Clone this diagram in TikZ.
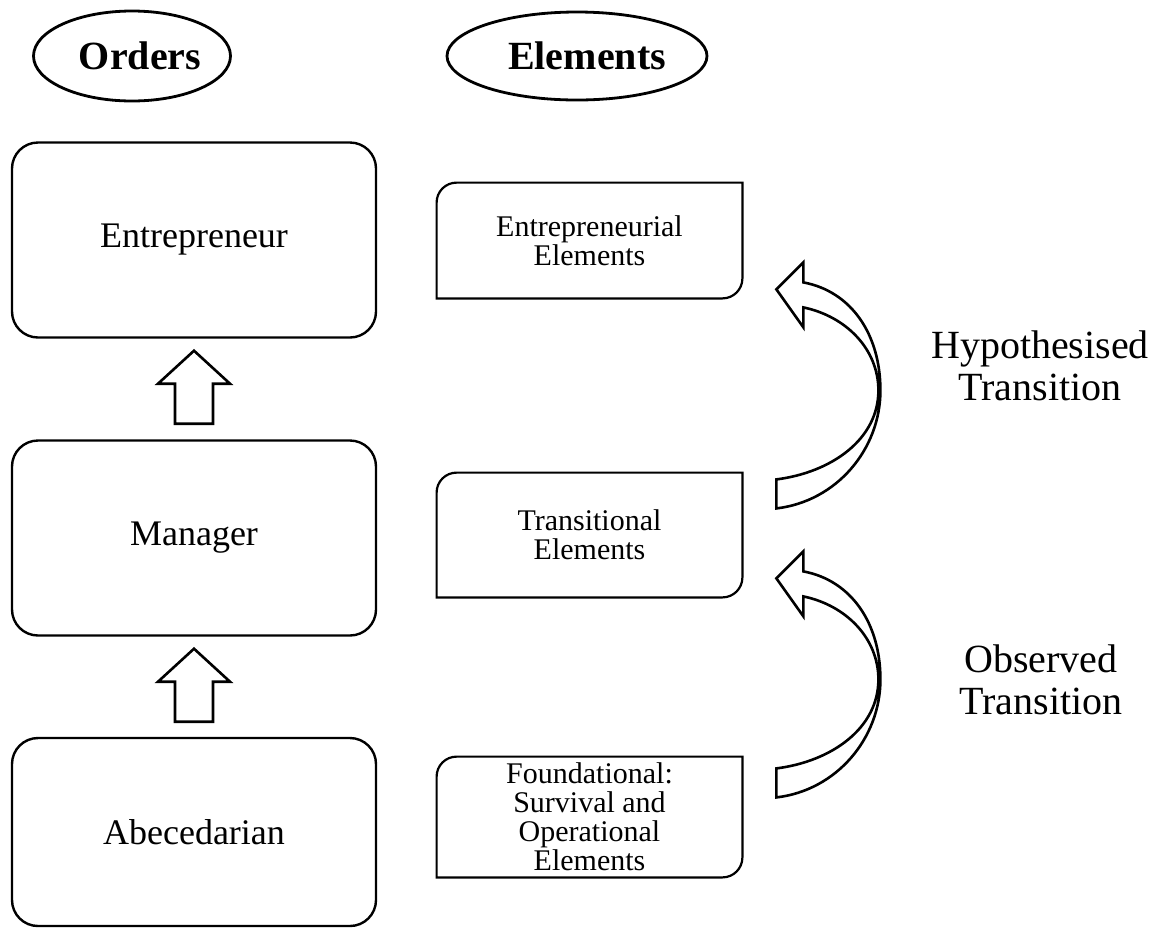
\documentclass[tikz,border=0pt]{standalone}
\usepackage{fontspec}
\setmainfont{Liberation Serif}
\usetikzlibrary{shapes.geometric,calc}

\tikzset{
  thickline/.style={line width=1.3pt, line join=miter},
  head/.style={ellipse, draw, line width=1.4pt, inner sep=0pt,
    font=\fontsize{20}{22}\selectfont\bfseries},
  order/.style={draw, line width=1.2pt, rounded corners=13pt,
    minimum width=182pt, minimum height=97.5pt,
    font=\fontsize{18}{21}\selectfont},
  elem/.style={align=center, inner sep=0pt, minimum width=152.5pt,
    font=\fontsize{15}{14.5}\selectfont},
  trans/.style={align=center, font=\fontsize{20}{21}\selectfont},
  bend arrow/.pic={
    \draw[thickline] (0,0) -- (27,-27) -- (27,-7)
      .. controls (75,2) and (104,45) .. (104,101)
      .. controls (104,160) and (60,212) .. (0,219) -- (0,190)
      .. controls (55,183) and (102,150) .. (102,101)
      .. controls (102,60) and (70,27) .. (27,18) -- (27,38) -- cycle;
  }
}

\begin{document}
\begin{tikzpicture}[x=0.5pt, y=-0.5pt]
  \useasboundingbox (0,0) rectangle (1159,928);

  % column heads
  \node[head, minimum width=98.5pt, minimum height=45pt] (orders) at (132,56) {\hspace*{8pt}Orders};
  \node[head, minimum width=130pt, minimum height=44pt] (elements) at (577,56) {\hspace*{10pt}Elements};

  % orders
  \node[order] (ent) at (194,240) {Entrepreneur};
  \node[order] (man) at (194,538) {Manager};
  \node[order, minimum height=94pt] (abe) at (194,832) {Abecedarian};

  \foreach \a in {ent,man}
    \draw[thickline] ($(\a.south)+(0,12)$) -- ++(36,33) -- ++(-17,0) -- ++(0,40)
      -- ++(-38,0) -- ++(0,-40) -- ++(-17,0) -- cycle;

  % elements
  \node[elem, minimum height=57.5pt] (entel) at (589.5,240.5) {Entrepreneurial\\Elements};
  \node[elem, minimum height=62pt] (tranel) at (589.5,535) {Transitional\\Elements};
  \node[elem, minimum height=60pt] (fndel) at (589.5,817) {Foundational:\\Survival and\\Operational\\Elements};

  \foreach \n in {entel,tranel,fndel}
    \draw[line width=1.1pt] ([xshift=10pt]\n.north west) -- (\n.north east)
      -- ([yshift=10pt]\n.south east) to[out=-90,in=0] ([xshift=-10pt]\n.south east)
      -- (\n.south west) -- ([yshift=-10pt]\n.north west) to[out=90,in=180] cycle;

  % transitions
  \pic at ($(entel.south east)+(34,-9)$) {bend arrow};
  \pic at ($(tranel.south east)+(34,-19)$) {bend arrow};

  \node[trans] (hyp) at (1040,366) {Hypothesised\\Transition};
  \node[trans] (obs) at (1041,680) {Observed\\Transition};
\end{tikzpicture}
\end{document}
